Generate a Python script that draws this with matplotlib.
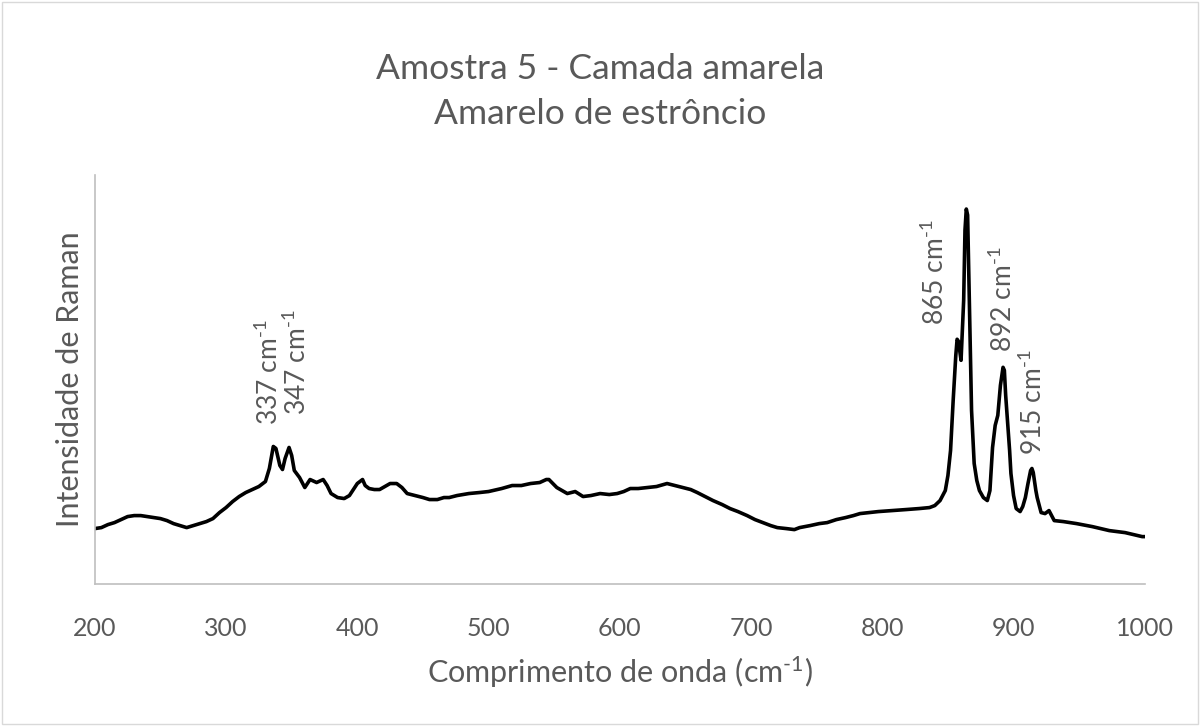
import numpy as np
import matplotlib.pyplot as plt
from matplotlib.patches import Rectangle

plt.rcParams['font.family'] = ['Lato', 'DejaVu Sans']
plt.rcParams['mathtext.fontset'] = 'custom'
plt.rcParams['mathtext.rm'] = 'Lato'
plt.rcParams['mathtext.it'] = 'Lato'

# espectro Raman (intensidade em unidades arbitrarias)
wavenumber = [200, 205, 210, 215, 220, 225, 230, 235, 240, 245, 250, 255, 260, 265, 270,
              275, 280, 285, 290, 295, 300, 305, 310, 315, 320, 325, 330, 333, 336, 338,
              341, 343, 345, 348, 350, 352, 356, 360, 364, 369, 374, 377, 380, 385, 390,
              394, 398, 400, 404, 406, 409, 413, 417, 421, 425, 430, 434, 438, 444, 450,
              455, 461, 466, 470, 476, 485, 493, 500, 510, 518, 525, 532, 539, 544, 546,
              549, 552, 556, 560, 566, 572, 578, 585, 592, 598, 603, 608, 614, 621, 628,
              636, 642, 648, 654, 659, 665, 671, 678, 684, 690, 697, 703, 709, 715, 720,
              727, 733, 737, 745, 752, 758, 765, 772, 778, 783, 790, 797, 808, 818, 828,
              836, 840, 844, 848, 850, 852, 854, 856, 857, 858, 860, 862, 863, 864, 865,
              866, 867, 868, 870, 872, 874, 877, 880, 882, 884, 886, 888, 890, 892, 893,
              894, 895, 897, 898, 900, 902, 905, 907, 909, 911, 913, 914, 915, 917, 918,
              921, 924, 927, 929, 931, 938, 948, 960, 973, 985, 998, 1000]
intensity = [55, 56, 59, 61, 64, 67, 68, 68, 67, 66, 65, 63, 60, 58, 56,
             58, 60, 62, 65, 71, 76, 82, 87, 91, 94, 97, 102, 115, 137, 135,
             118, 114, 125, 136, 128, 113, 106, 96, 104, 101, 104, 98, 90, 86, 85,
             88, 96, 100, 104, 98, 95, 94, 94, 97, 100, 100, 96, 90, 88, 86,
             84, 84, 86, 86, 88, 90, 91, 92, 95, 98, 98, 100, 101, 104, 104,
             100, 96, 93, 90, 92, 87, 88, 90, 89, 90, 92, 95, 95, 96, 97,
             100, 98, 96, 94, 91, 87, 83, 79, 75, 72, 68, 64, 61, 58, 56,
             55, 54, 56, 58, 60, 61, 64, 66, 68, 70, 71, 72, 73, 74, 75,
             76, 78, 83, 93, 108, 133, 183, 228, 244, 242, 223, 283, 353, 374, 368,
             303, 236, 173, 120, 103, 93, 86, 83, 93, 136, 158, 168, 198, 216, 213,
             188, 170, 133, 110, 88, 75, 72, 77, 86, 100, 113, 115, 111, 93, 86,
             71, 70, 73, 68, 63, 62, 60, 57, 53, 51, 47, 47]

peak_labels = ['337', '347', '865', '892', '915']
label_x = [333, 354, 840, 892, 915]
label_y = [158, 168, 258, 231, 128]

grey = '#595959'
sup = r'$^{\text{-1}}$'

fig = plt.figure(figsize=(12, 7.26), dpi=100)
ax = fig.add_axes([0.079, 0.196, 0.875, 0.563])
ax.plot(wavenumber, intensity, color='black', lw=2.6, solid_joinstyle='round')

for lab, x, y in zip(peak_labels, label_x, label_y):
    ax.text(x, y, lab + ' cm' + sup, rotation=90, ha='center',
            va='bottom', fontsize=19, color=grey)

ax.set_xlim(200, 1000)
ax.set_ylim(0, 408)
ax.set_xticks(np.arange(200, 1001, 100))
ax.set_yticks([])
ax.tick_params(axis='x', length=0, pad=24, labelsize=18, labelcolor=grey)
for s in ['top', 'right']:
    ax.spines[s].set_visible(False)
for s in ['left', 'bottom']:
    ax.spines[s].set_color('#bfbfbf')
    ax.spines[s].set_linewidth(1.2)

ax.set_xlabel('Comprimento de onda (cm' + sup + ')', fontsize=22,
              color=grey, labelpad=10)
ax.set_ylabel('Intensidade de Raman', fontsize=22, color=grey, labelpad=8)

fig.text(0.5, 0.905, 'Amostra 5 - Camada amarela', ha='center', va='center',
         fontsize=25.5, color=grey)
fig.text(0.5, 0.843, 'Amarelo de estrôncio', ha='center', va='center',
         fontsize=25.5, color=grey)

fig.patches.append(Rectangle((0.002, 0.003), 0.996, 0.994, transform=fig.transFigure,
                             fill=False, edgecolor='#d9d9d9', lw=1))

fig.savefig('out.png', dpi=100)
